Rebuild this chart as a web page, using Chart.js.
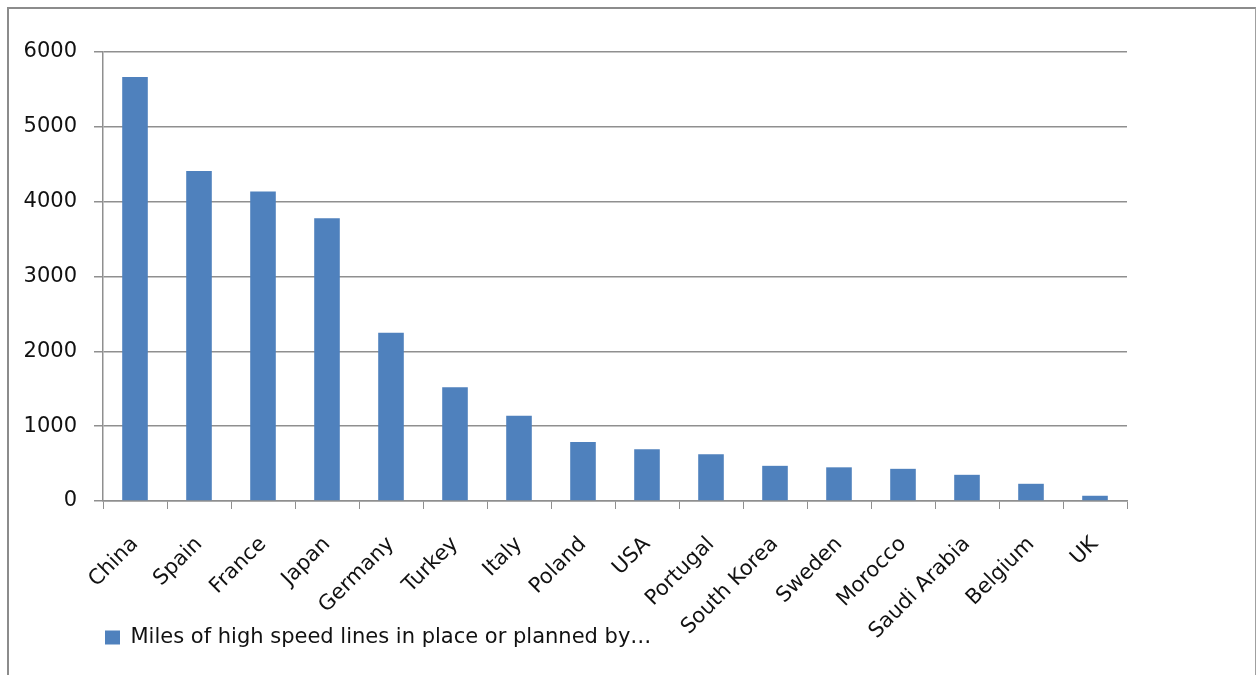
<!DOCTYPE html>
<html>
<head>
<meta charset="utf-8">
<script src="https://cdn.jsdelivr.net/npm/chart.js@4/dist/chart.umd.min.js"></script>
<style>
  html, body { margin: 0; padding: 0; background: #fff; overflow: hidden; }
  #wrap { position: relative; width: 1256px; height: 675px; }
  #frame {
    position: absolute; left: 7px; top: 7px; width: 1246px; height: 700px;
    border: 2px solid #8c8c8c; border-right: 1px solid #a0a0a0;
    pointer-events: none;
  }
</style>
</head>
<body>
<div id="wrap">
  <canvas id="railChart" width="1256" height="675"></canvas>
  <div id="frame"></div>
</div>
<script>
// high speed rail network by country (miles)
const countries = ['China', 'Spain', 'France', 'Japan', 'Germany', 'Turkey', 'Italy', 'Poland', 'USA',
    'Portugal', 'South Korea', 'Sweden', 'Morocco', 'Saudi Arabia', 'Belgium', 'UK'];
const miles = [5665, 4410, 4135, 3780, 2250, 1520, 1140, 790, 690, 625, 470, 450, 430, 350, 230, 70];
const seriesName = 'Miles of high speed lines in place or planned by\u2026';
const yTicks = [0, 1000, 2000, 3000, 4000, 5000, 6000];

const font = { family: 'DejaVu Sans', size: 21 };
const gridGray = '#8f8f8f';

const ctx = document.getElementById('railChart').getContext('2d');

// legend takes its space at the top, then gets parked under the axis labels
const legendShift = {
    id: 'legendShift',
    afterLayout(chart) {
        const lg = chart.legend;
        const h = lg.bottom - lg.top;
        lg.left = chart.chartArea.left + 2;
        lg.top = 627;
        lg.bottom = lg.top + h;
    }
};

const data = {
    labels: countries,
    datasets: [{
        label: seriesName,
        data: miles,
        backgroundColor: '#4f81bd',
        borderWidth: 0,
        barPercentage: 0.4,
        categoryPercentage: 1.0
    }]
};

const config = {
    type: 'bar',
    data: data,
    plugins: [legendShift],
    options: {
        responsive: false,
        animation: false,
        events: [],
        layout: {
            padding: { left: 0, right: 129, top: 21, bottom: 14 }
        },
        scales: {
            x: {
                grid: {
                    display: true,
                    drawOnChartArea: false,
                    drawTicks: true,
                    tickLength: 8,
                    color: gridGray,
                    offset: true
                },
                border: { display: true, color: gridGray, width: 1.5 },
                ticks: {
                    font: font,
                    color: '#111',
                    minRotation: 45,
                    maxRotation: 45,
                    autoSkip: false,
                    padding: 23
                },
                afterFit: (scale) => { scale.height = 160; }
            },
            y: {
                min: 0,
                max: 6000,
                afterBuildTicks: (scale) => { scale.ticks = yTicks.map(v => ({ value: v })); },
                grid: {
                    color: gridGray,
                    lineWidth: 1.5,
                    tickLength: 9
                },
                border: { display: true, color: gridGray, width: 1.5 },
                ticks: {
                    font: font,
                    color: '#111',
                    padding: 17,
                    callback: (v) => String(v)
                },
                afterFit: (scale) => { scale.width = 103; }
            }
        },
        plugins: {
            legend: {
                position: 'top',
                align: 'start',
                labels: {
                    font: font,
                    color: '#111',
                    boxWidth: 15,
                    boxHeight: 14,
                    padding: 0
                }
            },
            tooltip: { enabled: false },
            title: { display: false }
        }
    }
};

const railChart = new Chart(ctx, config);
</script>
</body>
</html>
